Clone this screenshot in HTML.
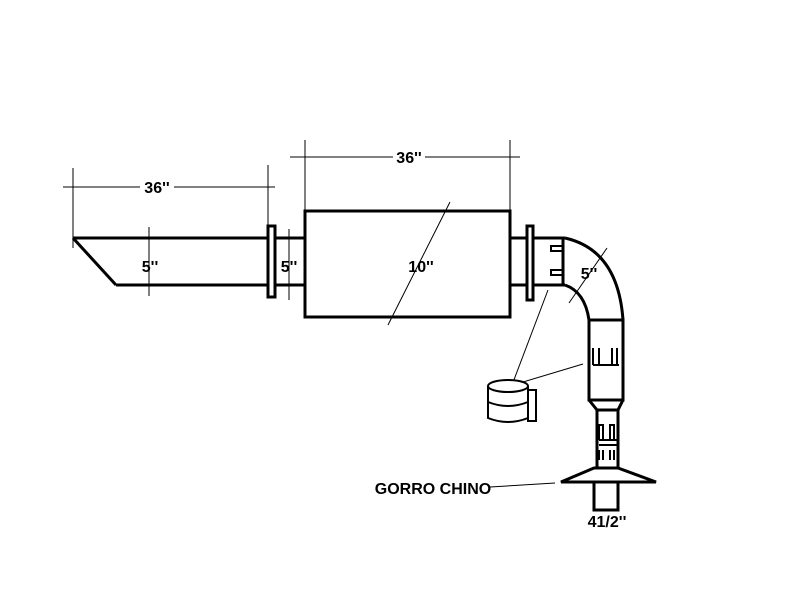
<!DOCTYPE html>
<html><head><style>body{margin:0;background:#fff}svg{display:block}</style></head><body>
<svg width="800" height="600" viewBox="0 0 800 600" xmlns="http://www.w3.org/2000/svg" font-family="Liberation Sans, sans-serif">
<g stroke="#000" fill="none">
<!-- dims -->
<g stroke-width="1">
<line x1="63" y1="187" x2="275" y2="187"/>
<line x1="73" y1="168" x2="73" y2="248"/>
<line x1="268" y1="165" x2="268" y2="226"/>
<line x1="290" y1="157" x2="520" y2="157"/>
<line x1="305" y1="140" x2="305" y2="211"/>
<line x1="510" y1="140" x2="510" y2="211"/>
<line x1="149" y1="227" x2="149" y2="296"/>
<line x1="289" y1="229" x2="289" y2="300"/>
<line x1="450" y1="202" x2="388" y2="325"/>
<line x1="607" y1="248" x2="569" y2="303"/>
<line x1="548" y1="290" x2="512" y2="385"/>
<line x1="513" y1="385" x2="583" y2="364"/>
<line x1="490" y1="487" x2="555" y2="483"/>
</g>
<!-- left pipe -->
<g stroke-width="3">
<line x1="73" y1="238" x2="305" y2="238"/>
<line x1="73" y1="238" x2="116" y2="285"/>
<line x1="116" y1="285" x2="305" y2="285"/>
<rect x="268" y="226" width="7" height="71" fill="#fff"/>
<rect x="305" y="211" width="205" height="106"/>
<line x1="510" y1="238" x2="565" y2="238"/>
<line x1="510" y1="285" x2="565" y2="285"/>
<rect x="527" y="226" width="6" height="74" fill="#fff"/>
<line x1="563" y1="238" x2="563" y2="285"/>
<path d="M565 238 Q618 250 623 320"/>
<path d="M565 285 Q585 292 589 320"/>
<rect x="589" y="320" width="34" height="80"/>
<path d="M589 400 L597 410 L597 468 M623 400 L618 410 L618 468 M597 410 H618"/>
<path d="M561 482 L594 468 H618 L656 482 Z"/>
<path d="M594 482 V510 H618 V482"/>
</g>
<g stroke-width="2">
<path d="M563 246 H551 V251 H563 M563 270 H551 V275 H563"/>
<path d="M593 365 V348 M593 365 H619 M599 348 V365 M612 348 V365 M617 348 V365"/>
<path d="M599 440 V425 H603 V440 M610 440 V425 H614 V440 M599 440 H617 M599 445 H617"/>
<path d="M599 460 V450 M603 460 V450 M610 460 V450 M614 460 V450"/>
<ellipse cx="508" cy="386" rx="20" ry="6" fill="#fff"/>
<path d="M488 386 V418 Q508 426 528 418 V386 M488 402 Q508 410 528 402"/>
<rect x="528" y="390" width="8" height="31"/>
</g>
</g>
<g font-size="16" font-weight="bold" fill="#000" text-anchor="middle">
<rect x="140" y="176" width="34" height="20" fill="#fff"/>
<text x="157" y="193">36''</text>
<rect x="393" y="146" width="32" height="20" fill="#fff"/>
<text x="409" y="163">36''</text>
<text x="150" y="272">5''</text>
<text x="289" y="272">5''</text>
<text x="421" y="272">10''</text>
<text x="589" y="279">5''</text>
<text x="607" y="527">41/2''</text>
<text x="433" y="494">GORRO CHINO</text>
</g>
</svg>
</body></html>
